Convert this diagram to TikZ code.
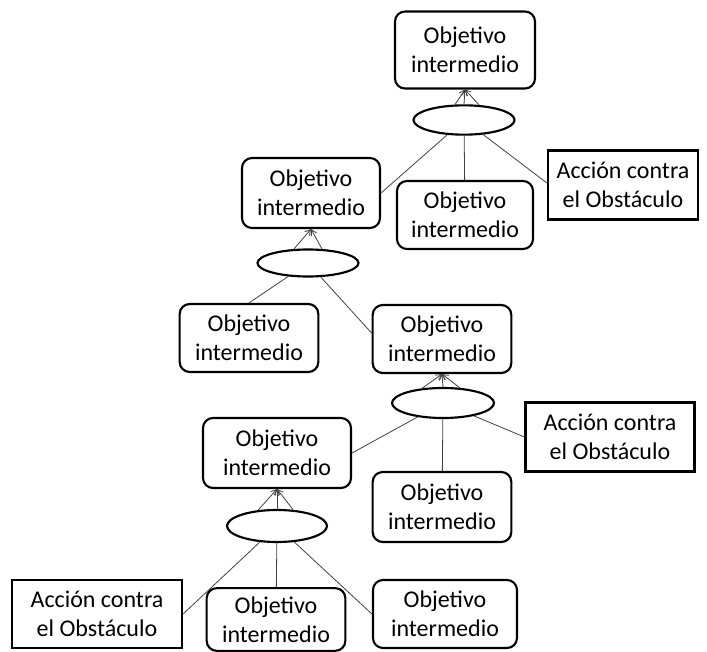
\documentclass[tikz,border=0pt]{standalone}
\usepackage{fontspec}
\setmainfont{Carlito}
\usetikzlibrary{arrows.meta,shapes.geometric}
\tikzset{
  obj/goal/.style={
    draw=black,
    line width=1.6pt,
    rounded corners=7.5pt,
    fill=white,
    align=center,
    inner sep=2pt,
    minimum width=104pt,
    minimum height=51pt,
    font=\fontsize{18}{21.5}\selectfont
  },
  obj/action/.style={
    draw=black,
    line width=1.6pt,
    fill=white,
    align=center,
    inner sep=2pt,
    minimum width=112pt,
    minimum height=51.75pt,
    font=\fontsize{18}{21.5}\selectfont
  },
  obj/and/.style={
    ellipse,
    draw=black,
    line width=1.6pt,
    fill=white,
    inner sep=0pt,
    minimum width=75.75pt,
    minimum height=22pt
  },
  obj/line/.style={line width=0.6pt, draw=black!75},
  obj/arrow/.style={-{Straight Barb[length=4pt,width=4.5pt]}, line width=0.6pt, draw=black!75}
}
\begin{document}
\begin{tikzpicture}[x=0.75pt,y=-0.75pt]
  \useasboundingbox (0,0) rectangle (707,652);
  \node[obj/goal,minimum width=105pt,minimum height=57.75pt] (g1) at (465,50) {Objetivo\\intermedio};
  \node[obj/and] (e1) at (464,120) {};
  \node[obj/goal,minimum width=103.5pt,minimum height=52.5pt] (g2) at (311,193) {Objetivo\\intermedio};
  \node[obj/goal,minimum width=102pt] (g3) at (465,215) {Objetivo\\intermedio};
  \node[obj/action,minimum width=112.5pt] (a1) at (623,185) {Acción contra\\el Obstáculo};
  \node[obj/and,minimum height=20.25pt] (e2) at (308,263) {};
  \node[obj/goal] (g4) at (249,338) {Objetivo\\intermedio};
  \node[obj/goal] (g5) at (442,339) {Objetivo\\intermedio};
  \node[obj/and,minimum width=76.5pt,minimum height=22.5pt] (e3) at (443,403) {};
  \node[obj/action,minimum width=126.75pt] (a2) at (610,437) {Acción contra\\el Obstáculo};
  \node[obj/goal,minimum width=111pt,minimum height=52.5pt] (g6) at (277,453) {Objetivo\\intermedio};
  \node[obj/goal,minimum height=52.5pt] (g7) at (442,507) {Objetivo\\intermedio};
  \node[obj/and,minimum width=75pt,minimum height=24pt] (e4) at (277,526) {};
  \node[obj/action,minimum width=127.5pt,minimum height=51pt] (a3) at (97,614) {Acción contra\\el Obstáculo};
  \node[obj/goal,minimum height=47pt,inner sep=0pt] (g8) at (276,619.5) {Objetivo\\intermedio};
  \node[obj/goal,minimum width=108pt] (g9) at (445,614) {Objetivo\\intermedio};
  \draw[obj/line] (e1) -- (g2.east);
  \draw[obj/line] (e1) -- (g3);
  \draw[obj/line] (e1) -- ([yshift=1.5pt]a1.west);
  \draw[obj/line] (e2) -- (g4.north);
  \draw[obj/line] (e2) -- ([yshift=4.5pt]g5.west);
  \draw[obj/line] (e3) -- (g6.east);
  \draw[obj/line] (e3) -- (g7);
  \draw[obj/line] (e3) -- (a2.west);
  \draw[obj/line] (e4) -- (a3.east);
  \draw[obj/line] (e4) -- (g8);
  \draw[obj/line] (e4) -- (g9.west);
  \foreach \ang in {120,90,45} \draw[obj/arrow] (e1.\ang) -- (g1.south);
  \foreach \ang in {135,45} \draw[obj/arrow] (e2.\ang) -- (g2.south);
  \foreach \ang in {145,90,42} \draw[obj/arrow] (e3.\ang) -- (g5.south);
  \foreach \ang in {140,90,45} \draw[obj/arrow] (e4.\ang) -- (g6.south);
\end{tikzpicture}
\end{document}
